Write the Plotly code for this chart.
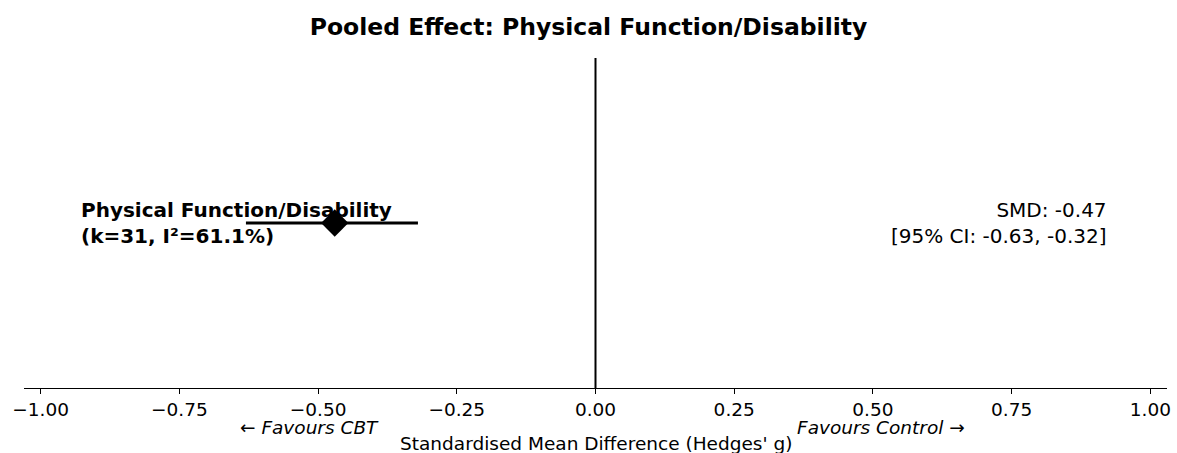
import plotly.graph_objects as go

outcome = ["Physical Function/Disability"]
smd = [-0.47]
ci_low = [-0.63]
ci_high = [-0.32]
k_studies = [31]
i2 = [61.1]
tick_vals = [-1.0, -0.75, -0.5, -0.25, 0.0, 0.25, 0.5, 0.75, 1.0]
tick_text = ["\u22121.00", "\u22120.75", "\u22120.50", "\u22120.25", "0.00", "0.25", "0.50", "0.75", "1.00"]

FONT = "DejaVu Sans"
fig = go.Figure()

for i in range(len(smd)):
    fig.add_trace(go.Scatter(x=[ci_low[i], ci_high[i]], y=[0, 0], mode="lines",
                             line=dict(color="black", width=3), showlegend=False, hoverinfo="skip"))
    fig.add_trace(go.Scatter(x=[smd[i]], y=[0], mode="markers",
                             marker=dict(symbol="diamond", size=21, color="black"),
                             showlegend=False))

fig.add_shape(type="line", x0=0, x1=0, y0=0, y1=1, yref="paper", xref="x",
              line=dict(color="black", width=2))

anns = []
for i in range(len(smd)):
    anns.append(dict(x=-0.93, y=0, xref="x", yref="y", xanchor="left", yanchor="middle",
                     text=f"<b>{outcome[i]}<br>(k={k_studies[i]}, I\u00b2={i2[i]}%)</b>",
                     showarrow=False, align="left", font=dict(family=FONT, size=20, color="black")))
    anns.append(dict(x=0.925, y=0, xref="x", yref="y", xanchor="right", yanchor="middle",
                     text=f"SMD: {smd[i]:.2f}<br>[95% CI: {ci_low[i]:.2f}, {ci_high[i]:.2f}]",
                     showarrow=False, align="right", font=dict(family=FONT, size=20, color="black")))
anns.append(dict(x=-0.515, y=-0.12, xref="x", yref="paper", xanchor="center", yanchor="middle",
                 text="<i>\u2190 Favours CBT</i>", showarrow=False,
                 font=dict(family=FONT, size=18.5, color="black")))
anns.append(dict(x=0.514, y=-0.12, xref="x", yref="paper", xanchor="center", yanchor="middle",
                 text="<i>Favours Control \u2192</i>", showarrow=False,
                 font=dict(family=FONT, size=18.5, color="black")))
anns.append(dict(x=0, y=-0.169, xref="x", yref="paper", xanchor="center", yanchor="middle",
                 text="Standardised Mean Difference (Hedges' g)", showarrow=False,
                 font=dict(family=FONT, size=18.5, color="black")))

fig.update_layout(
    width=1177, height=453,
    margin=dict(l=24, r=10, t=58, b=65, autoexpand=False),
    paper_bgcolor="white", plot_bgcolor="white",
    title=dict(text="<b>Pooled Effect: Physical Function/Disability</b>", x=0.5, xanchor="center",
               y=0.94, yanchor="middle", font=dict(family=FONT, size=23.5, color="black")),
    annotations=anns,
    xaxis=dict(range=[-1.03, 1.03], tickvals=tick_vals, ticktext=tick_text, automargin=False,
               showgrid=False, zeroline=False, showline=True, linecolor="black", linewidth=1,
               ticks="outside", ticklen=5, tickcolor="black",
               tickfont=dict(family=FONT, size=18.5, color="black")),
    yaxis=dict(range=[-1, 1], visible=False, showgrid=False, zeroline=False),
)

fig.write_html("out.html")
